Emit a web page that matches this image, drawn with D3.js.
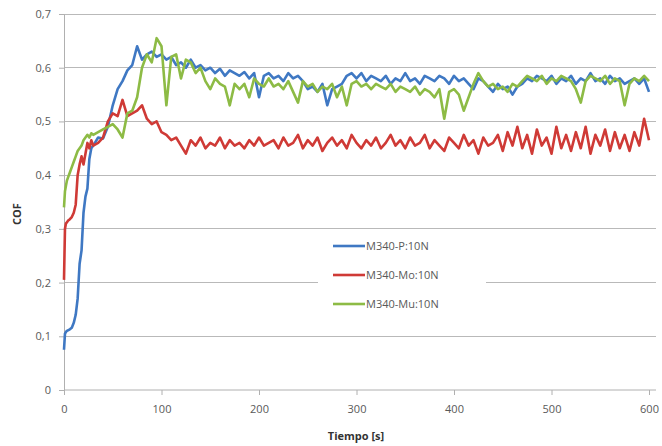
<!DOCTYPE html>
<html>
<head>
<meta charset="utf-8">
<script src="https://cdn.jsdelivr.net/npm/d3@7"></script>
<style>
  body { margin: 0; background: #fff; }
  text { font-family: "Open Sans", "DejaVu Sans", sans-serif; }
</style>
</head>
<body>
<div id="chart"></div>
<script>
// time axis (s)
const tiempo = [0, 1, 2, 3, 4, 6, 8, 10, 12, 14, 16, 18, 20, 22, 24, 26, 28,
  30, 35, 40, 45, 50, 55, 60, 65, 70, 75, 80, 85, 90, 95, 100, 105, 110, 115, 120,
  125, 130, 135, 140, 145, 150, 155, 160, 165, 170, 175, 180, 185, 190, 195, 200,
  205, 210, 215, 220, 225, 230, 235, 240, 245, 250, 255, 260, 265, 270, 275, 280,
  285, 290, 295, 300, 305, 310, 315, 320, 325, 330, 335, 340, 345, 350, 355, 360,
  365, 370, 375, 380, 385, 390, 395, 400, 405, 410, 415, 420, 425, 430, 435, 440,
  445, 450, 455, 460, 465, 470, 475, 480, 485, 490, 495, 500, 505, 510, 515, 520,
  525, 530, 535, 540, 545, 550, 555, 560, 565, 570, 575, 580, 585, 590, 595, 600];

const cofP = [0.075, 0.105, 0.108, 0.110, 0.111, 0.113, 0.116, 0.125, 0.140, 0.170, 0.235, 0.26, 0.33, 0.36, 0.375, 0.43, 0.45,
  0.455, 0.47, 0.468, 0.49, 0.53, 0.56, 0.575, 0.595, 0.605, 0.64, 0.615, 0.625, 0.63, 0.62, 0.625, 0.615, 0.62, 0.605, 0.61,
  0.60, 0.615, 0.60, 0.605, 0.595, 0.60, 0.59, 0.598, 0.585, 0.595, 0.59, 0.585, 0.592, 0.58, 0.59, 0.545,
  0.585, 0.59, 0.58, 0.585, 0.575, 0.59, 0.58, 0.585, 0.575, 0.56, 0.565, 0.555, 0.57, 0.53, 0.56, 0.565,
  0.57, 0.585, 0.59, 0.58, 0.59, 0.575, 0.585, 0.58, 0.575, 0.585, 0.57, 0.58, 0.575, 0.59, 0.575, 0.58,
  0.57, 0.585, 0.58, 0.575, 0.585, 0.58, 0.57, 0.585, 0.575, 0.58, 0.57, 0.56, 0.58, 0.575, 0.565, 0.555,
  0.57, 0.56, 0.565, 0.55, 0.565, 0.57, 0.58, 0.575, 0.585, 0.58, 0.575, 0.585, 0.57, 0.58, 0.575, 0.585,
  0.57, 0.58, 0.575, 0.59, 0.575, 0.58, 0.57, 0.585, 0.575, 0.58, 0.57, 0.575, 0.58, 0.57, 0.58, 0.555];

const cofMo = [0.205, 0.30, 0.31, 0.312, 0.315, 0.318, 0.322, 0.33, 0.345, 0.40, 0.42, 0.435, 0.42, 0.44, 0.46, 0.45, 0.465,
  0.455, 0.46, 0.47, 0.50, 0.515, 0.51, 0.54, 0.51, 0.515, 0.52, 0.53, 0.505, 0.495, 0.50, 0.48, 0.475, 0.465, 0.47, 0.455,
  0.44, 0.465, 0.455, 0.47, 0.45, 0.46, 0.455, 0.47, 0.45, 0.465, 0.455, 0.46, 0.45, 0.465, 0.455, 0.47,
  0.455, 0.46, 0.465, 0.45, 0.47, 0.455, 0.46, 0.475, 0.45, 0.465, 0.455, 0.47, 0.445, 0.46, 0.47, 0.455,
  0.465, 0.45, 0.475, 0.46, 0.45, 0.465, 0.455, 0.47, 0.45, 0.46, 0.475, 0.455, 0.465, 0.45, 0.47, 0.455,
  0.46, 0.475, 0.45, 0.465, 0.455, 0.445, 0.47, 0.46, 0.45, 0.475, 0.455, 0.465, 0.44, 0.47, 0.455, 0.46,
  0.475, 0.445, 0.48, 0.455, 0.49, 0.45, 0.475, 0.44, 0.485, 0.455, 0.47, 0.44, 0.49, 0.45, 0.475, 0.445,
  0.48, 0.45, 0.49, 0.44, 0.475, 0.455, 0.485, 0.445, 0.48, 0.45, 0.475, 0.445, 0.48, 0.455, 0.505, 0.465];

const cofMu = [0.34, 0.37, 0.38, 0.39, 0.395, 0.405, 0.415, 0.425, 0.435, 0.445, 0.45, 0.455, 0.465, 0.47, 0.475, 0.47, 0.478,
  0.475, 0.48, 0.485, 0.49, 0.495, 0.485, 0.47, 0.515, 0.52, 0.545, 0.60, 0.625, 0.61, 0.655, 0.64, 0.53, 0.62, 0.625, 0.58,
  0.615, 0.61, 0.59, 0.60, 0.575, 0.56, 0.58, 0.57, 0.565, 0.53, 0.57, 0.56, 0.57, 0.545, 0.58, 0.57,
  0.565, 0.58, 0.565, 0.57, 0.56, 0.575, 0.555, 0.535, 0.575, 0.565, 0.57, 0.555, 0.565, 0.56, 0.57, 0.545,
  0.565, 0.53, 0.57, 0.575, 0.565, 0.57, 0.56, 0.57, 0.565, 0.56, 0.57, 0.555, 0.565, 0.56, 0.555, 0.565,
  0.55, 0.56, 0.555, 0.545, 0.56, 0.505, 0.555, 0.56, 0.55, 0.52, 0.545, 0.57, 0.59, 0.575, 0.565, 0.57,
  0.56, 0.565, 0.555, 0.57, 0.565, 0.575, 0.585, 0.58, 0.575, 0.585, 0.57, 0.58, 0.575, 0.585, 0.58, 0.575,
  0.56, 0.535, 0.575, 0.585, 0.58, 0.575, 0.585, 0.57, 0.58, 0.575, 0.53, 0.57, 0.58, 0.575, 0.585, 0.575];

const seriesNames = ['M340-P:10N', 'M340-Mo:10N', 'M340-Mu:10N'];
const seriesColors = ['#3f78c3', '#cf3a36', '#8dbb45'];
const seriesValues = [cofP, cofMo, cofMu];

const xTicks = [0, 100, 200, 300, 400, 500, 600];
const yTicks = [0, 0.1, 0.2, 0.3, 0.4, 0.5, 0.6, 0.7];

const width = 662, height = 446;
const plotLeft = 64, plotRight = 649, plotTop = 14, plotBottom = 390;

const svg = d3.select('#chart').append('svg')
  .attr('width', width)
  .attr('height', height);

const x = d3.scaleLinear().domain([0, 600]).range([plotLeft, plotRight]);
const y = d3.scaleLinear().domain([0, 0.7]).range([plotBottom, plotTop]);

const fmt = v => (v === 0 ? '0' : d3.format('.1f')(v).replace('.', ','));

// grid lines
svg.append('g').selectAll('line')
  .data(yTicks.filter(d => d > 0))
  .join('line')
  .attr('x1', plotLeft).attr('x2', 656)
  .attr('y1', d => y(d)).attr('y2', d => y(d))
  .attr('stroke', '#b9b9b9')
  .attr('stroke-width', 1)
  .attr('shape-rendering', 'crispEdges');

// y axis
const yAxis = svg.append('g')
  .attr('transform', `translate(${plotLeft},0)`)
  .call(d3.axisLeft(y).tickValues(yTicks).tickFormat(fmt).tickSize(5).tickPadding(8));
yAxis.select('.domain').attr('stroke', '#b0b0b0');
yAxis.selectAll('.tick line').attr('stroke', '#b0b0b0');
yAxis.selectAll('text').attr('fill', '#595959').style('font-size', '11px');

// x axis
const xAxis = svg.append('g')
  .attr('transform', `translate(0,${plotBottom})`)
  .call(d3.axisBottom(x).tickValues(xTicks).tickFormat(d3.format('d')).tickSize(5).tickPadding(10));
xAxis.select('.domain').attr('stroke', '#b0b0b0').attr('d', `M${plotLeft},0H656`);
xAxis.selectAll('.tick line').attr('stroke', '#b0b0b0');
xAxis.selectAll('text').attr('fill', '#595959').style('font-size', '11px');

// axis titles
svg.append('text')
  .attr('x', 356).attr('y', 440)
  .attr('text-anchor', 'middle')
  .style('font-size', '11px').style('font-weight', 'bold')
  .attr('fill', '#333')
  .text('Tiempo [s]');

svg.append('text')
  .attr('transform', 'translate(21,214) rotate(-90)')
  .attr('text-anchor', 'middle')
  .style('font-size', '11px').style('font-weight', 'bold')
  .attr('fill', '#333')
  .text('COF');

// series lines
const line = d3.line()
  .x((d, i) => x(tiempo[i]))
  .y(d => y(d));

seriesValues.forEach((vals, k) => {
  svg.append('path')
    .datum(vals)
    .attr('fill', 'none')
    .attr('stroke', seriesColors[k])
    .attr('stroke-width', 2.6)
    .attr('stroke-linejoin', 'round')
    .attr('d', line);
});

// legend
const legend = svg.append('g');
legend.append('rect')
  .attr('x', 318).attr('y', 232)
  .attr('width', 168).attr('height', 88)
  .attr('fill', '#fff');

seriesNames.forEach((name, k) => {
  const ly = 246 + k * 29;
  legend.append('line')
    .attr('x1', 333).attr('x2', 365)
    .attr('y1', ly).attr('y2', ly)
    .attr('stroke', seriesColors[k])
    .attr('stroke-width', 2.6);
  legend.append('text')
    .attr('x', 366).attr('y', ly + 4)
    .style('font-size', '11px')
    .attr('fill', '#595959')
    .text(name);
});
</script>
</body>
</html>
